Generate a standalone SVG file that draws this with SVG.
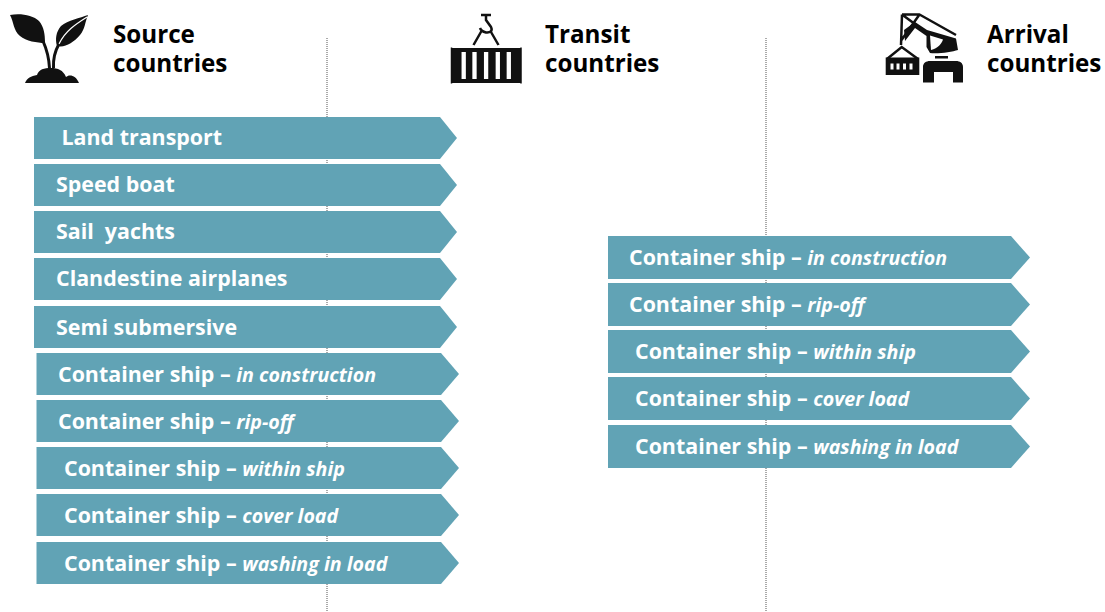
<svg xmlns="http://www.w3.org/2000/svg" width="1105" height="612" viewBox="0 0 1105 612">
<style>
.h{font:700 24.200px "Open Sans",sans-serif;fill:#000}
.t{font:700 21.400px "Open Sans",sans-serif;fill:#fff;white-space:pre}
.i{font:italic 700 19.650px "Open Sans",sans-serif;fill:#fff}
.a{fill:#61a3b5}
.d{stroke:#555;stroke-width:1;stroke-dasharray:1 1;fill:none}
.k{fill:#111}
.s{stroke:#111;fill:none;stroke-width:2.500}
</style>
<rect width="1105" height="612" fill="#fff"/>
<g id="connectors"><path class="d" d="M327 38V612M766 38V612"/></g>
<g id="source-header">
<path class="k" d="M10 15C20 13 33 15 39 21C44 27 45 34 45 43C37 43 26 41 20 36C13 30 14 22 10 15Z"/>
<path class="k" d="M88 15C80 18 68 20 61 26C56 32 55 39 57 46C65 48 73 43 80 35C85 29 85 22 88 15Z"/>
<path d="M87 17C76 24 65 31 59 44" stroke="#fff" stroke-width="1.200" fill="none"/>
<path stroke="#111" stroke-width="3" fill="none" d="M43 41C47 50 49 58 49.500 68M59 44C55 51 53 59 53.500 68"/>
<path class="k" d="M25 83C27 78 31 76 37 75C39 69 44 68 51 68C58 68 63 70 66 77C69 74 76 75 79 83Z"/>
<text class="h" x="113" y="42.500">Source</text><text class="h" x="113" y="71.500">countries</text></g>
<g id="transit-header">
<path class="s" d="M481 15H491M486 15V20L491 27C493 31 490 33 486 32.500C484 32 481 31 480 28M481.500 31L473.500 45M491 32L498.500 45"/>
<rect class="k" x="452" y="48" width="69" height="35"/>
<path d="M451.500 47.500V83.500M521 47.500V83.500" stroke="#111" stroke-width="1.500"/>
<path d="M463.700 52V79M474.500 52V79M486.100 52V79M497.800 52V79M508.800 52V79" stroke="#fff" stroke-width="4.300" fill="none"/>
<text class="h" x="545" y="42.500">Transit</text><text class="h" x="545" y="71.500">countries</text></g>
<g id="arrival-header">
<path class="s" stroke-linejoin="round" d="M902 14.500H919.500L956 35M902 14.500L901 45M902 14.500L927 33M919.500 14.500L901.500 40"/>
<path class="k" d="M904 30L915 22L927 30L956 38.500L958 50C952 52 938 54 930 53L926.500 47L926.500 36L915 28L905 41Z"/>
<path fill="#fff" d="M930 35.500L943 39.500C941.500 44 938 48 931 50Z"/>
<path fill="none" stroke="#111" stroke-width="2.500" d="M887 59L901.700 47L918 59"/>
<rect class="k" x="885.700" y="57.500" width="33.600" height="17.500"/>
<path d="M892 63.500v6M898 63.500v6M904.500 63.500v6M911 63.500v6" stroke="#fff" stroke-width="3"/>
<rect class="k" x="935" y="56" width="13" height="2.500"/>
<path class="k" d="M923 82.500V67C923 63 926 61 930 61H956C960 61 963 63 963 67V82.500H953V72H934V82.500Z"/>
<text class="h" x="987" y="42.500">Arrival</text><text class="h" x="987" y="71.500">countries</text></g>
<g id="s1"><path class="a" d="M34 117H440L457 138L440 159H34Z"/><text class="t" x="61.500" y="145">Land transport</text></g>
<g id="s2"><path class="a" d="M34 164H440L457 185L440 206H34Z"/><text class="t" x="56" y="192">Speed boat</text></g>
<g id="s3"><path class="a" d="M34 211H440L457 232L440 253H34Z"/><text class="t" x="56" y="239">Sail  yachts</text></g>
<g id="s4"><path class="a" d="M34 258H440L457 279L440 300H34Z"/><text class="t" x="56" y="286">Clandestine airplanes</text></g>
<g id="s5"><path class="a" d="M34 306H440L457 327L440 348H34Z"/><text class="t" x="56" y="334.500">Semi submersive</text></g>
<g id="s6"><path class="a" d="M36.500 353H441L459 374L441 395H36.500Z"/><text class="t" x="58" y="382">Container ship – <tspan class="i">in construction</tspan></text></g>
<g id="s7"><path class="a" d="M36.500 400H441L459 421L441 442H36.500Z"/><text class="t" x="58" y="429">Container ship – <tspan class="i">rip-off</tspan></text></g>
<g id="s8"><path class="a" d="M36.500 447H441L459 468L441 489H36.500Z"/><text class="t" x="64" y="476">Container ship – <tspan class="i">within ship</tspan></text></g>
<g id="s9"><path class="a" d="M36.500 494H441L459 515L441 536H36.500Z"/><text class="t" x="64" y="523">Container ship – <tspan class="i">cover load</tspan></text></g>
<g id="s10"><path class="a" d="M36.500 542H441L459 563L441 584H36.500Z"/><text class="t" x="64" y="571">Container ship – <tspan class="i">washing in load</tspan></text></g>
<g id="t1"><path class="a" d="M608 236H1011L1030 257.500L1011 279H608Z"/><text class="t" x="629" y="265">Container ship – <tspan class="i">in construction</tspan></text></g>
<g id="t2"><path class="a" d="M608 283H1011L1030 304.500L1011 326H608Z"/><text class="t" x="629" y="312">Container ship – <tspan class="i">rip-off</tspan></text></g>
<g id="t3"><path class="a" d="M608 330H1011L1030 351.500L1011 373H608Z"/><text class="t" x="635" y="359">Container ship – <tspan class="i">within ship</tspan></text></g>
<g id="t4"><path class="a" d="M608 377H1011L1030 398.500L1011 420H608Z"/><text class="t" x="635" y="406">Container ship – <tspan class="i">cover load</tspan></text></g>
<g id="t5"><path class="a" d="M608 425H1011L1030 446.500L1011 468H608Z"/><text class="t" x="635" y="454">Container ship – <tspan class="i">washing in load</tspan></text></g>
</svg>
